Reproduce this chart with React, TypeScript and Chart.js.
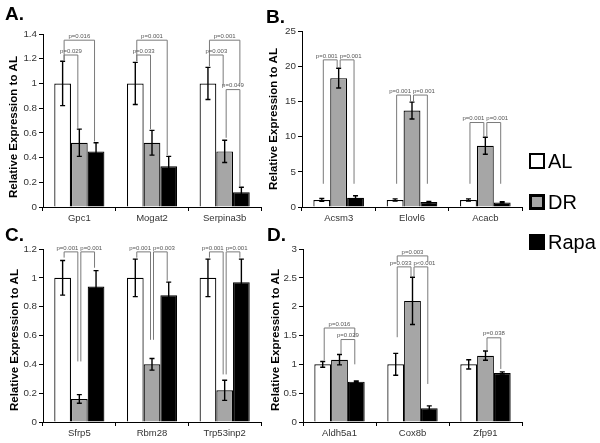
import React, { useEffect, useRef } from 'react';
import { Chart, registerables } from 'chart.js';
Chart.register(...registerables);

const FONT = "'Liberation Sans', Arial, Helvetica, sans-serif";
const seriesNames = ['AL', 'DR', 'Rapa'];
const seriesFill = ['#ffffff', '#a6a6a6', '#000000'];

// Panel A
const genesA = ['Gpc1', 'Mogat2', 'Serpina3b'];
const alA = [1.0, 1.0, 1.0];
const alErrA = [0.18, 0.17, 0.13];
const drA = [0.52, 0.52, 0.45];
const drErrA = [0.11, 0.1, 0.09];
const rapaA = [0.45, 0.33, 0.12];
const rapaErrA = [0.07, 0.08, 0.04];
// [category, fromSeries, toSeries, lineValue, fromLegEnd, toLegEnd, label]
const bracketsA: any[] = [
  [0, 0, 2, 1.35, 1.19, 0.53, 'p=0.016'],
  [0, 0, 1, 1.23, 1.19, 0.64, 'p=0.029'],
  [1, 0, 2, 1.35, 1.18, 0.42, 'p=0.001'],
  [1, 0, 1, 1.23, 1.18, 0.63, 'p=0.033'],
  [2, 0, 2, 1.35, 1.14, 1.0, 'p=0.001'],
  [2, 0, 1, 1.23, 1.14, 0.98, 'p=0.003'],
  [2, 1, 2, 0.95, 0.56, 0.17, 'p=0.049'],
];
const ticksA = { max: 1.4, step: 0.2 };

// Panel B
const genesB = ['Acsm3', 'Elovl6', 'Acacb'];
const alB = [1.0, 1.0, 1.0];
const alErrB = [0.2, 0.15, 0.15];
const drB = [18.3, 13.7, 8.7];
const drErrB = [1.4, 1.2, 1.2];
const rapaB = [1.3, 0.7, 0.65];
const rapaErrB = [0.3, 0.1, 0.1];
const bracketsB: any[] = [
  [0, 0, 1, 20.9, 3.3, 19.8, 'p=0.001'],
  [0, 1, 2, 20.9, 19.8, 3.3, 'p=0.001'],
  [1, 0, 1, 15.9, 3.3, 14.9, 'p=0.001'],
  [1, 1, 2, 15.9, 14.9, 3.3, 'p=0.001'],
  [2, 0, 1, 12.0, 3.3, 10.0, 'p=0.001'],
  [2, 1, 2, 12.0, 10.0, 3.3, 'p=0.001'],
];
const ticksB = { max: 25, step: 5 };

// Panel C
const genesC = ['Sfrp5', 'Rbm28', 'Trp53inp2'];
const alC = [1.0, 1.0, 1.0];
const alErrC = [0.12, 0.13, 0.13];
const drC = [0.16, 0.4, 0.22];
const drErrC = [0.03, 0.04, 0.07];
const rapaC = [0.94, 0.88, 0.97];
const rapaErrC = [0.11, 0.09, 0.16];
const bracketsC: any[] = [
  [0, 0, 1, 1.18, 1.14, 0.42, 'p=0.001'],
  [0, 1, 2, 1.18, 0.42, 1.07, 'p=0.001'],
  [1, 0, 1, 1.18, 1.14, 0.57, 'p=0.001'],
  [1, 1, 2, 1.18, 0.57, 0.98, 'p=0.003'],
  [2, 0, 1, 1.18, 1.14, 0.33, 'p=0.001'],
  [2, 1, 2, 1.18, 0.33, 1.14, 'p=0.001'],
];
const ticksC = { max: 1.2, step: 0.2 };

// Panel D
const genesD = ['Aldh5a1', 'Cox8b', 'Zfp91'];
const alD = [1.0, 1.0, 1.0];
const alErrD = [0.05, 0.19, 0.08];
const drD = [1.08, 2.1, 1.15];
const drErrD = [0.09, 0.41, 0.08];
const rapaD = [0.7, 0.24, 0.85];
const rapaErrD = [0.01, 0.04, 0.02];
const bracketsD: any[] = [
  [0, 0, 2, 1.63, 1.07, 1.47, 'p=0.016'],
  [0, 1, 2, 1.43, 1.18, 1.0, 'p=0.029'],
  [1, 0, 2, 2.88, 2.78, 2.78, 'p=0.003'],
  [1, 0, 1, 2.69, 1.47, 2.53, 'p=0.033'],
  [1, 1, 2, 2.69, 2.53, 0.66, 'p<0.001'],
  [2, 1, 2, 1.46, 1.24, 0.92, 'p=0.038'],
];
const ticksD = { max: 3, step: 0.5 };

const yTitle = 'Relative Expression to AL';

type PanelProps = {
  letter: string;
  genes: string[];
  values: number[][];
  errors: number[][];
  brackets: any[];
  ticks: { max: number; step: number };
  left: number; top: number; width: number; height: number;
  padTop: number; padRight: number; yWidth: number; xHeight: number;
  letterPos: [number, number];
  titlePos: [number, number];
};

function Panel(p: PanelProps) {
  const ref = useRef<HTMLCanvasElement>(null);
  useEffect(() => {
    if (!ref.current) return;
    const overlay = {
      id: 'overlay',
      afterDatasetsDraw(chart: any) {
        const ctx = chart.ctx;
        const ys = chart.scales.y;
        ctx.save();
        // error bars
        chart.data.datasets.forEach((ds: any, di: number) => {
          const meta = chart.getDatasetMeta(di);
          meta.data.forEach((bar: any, i: number) => {
            const v = ds.data[i];
            const e = p.errors[di][i];
            const x = bar.x;
            const yt = ys.getPixelForValue(v + e);
            const yb = ys.getPixelForValue(v - e);
            ctx.strokeStyle = '#000';
            ctx.lineWidth = 1.4;
            ctx.beginPath();
            ctx.moveTo(x, yt); ctx.lineTo(x, yb);
            ctx.moveTo(x - 2.5, yt); ctx.lineTo(x + 2.5, yt);
            ctx.moveTo(x - 2.5, yb); ctx.lineTo(x + 2.5, yb);
            ctx.stroke();
          });
        });
        // brackets
        ctx.font = `6px ${FONT}`;
        const items = p.brackets.map((b: any) => {
          const [c, a, z, lv, la, lz, label] = b;
          const xa = chart.getDatasetMeta(a).data[c].x + 1.5;
          const xz = chart.getDatasetMeta(z).data[c].x - 1.5;
          const yl = ys.getPixelForValue(lv);
          return { c, lv, xa, xz, yl, la, lz, label, tx: (xa + xz) / 2, w: ctx.measureText(label).width };
        });
        // push apart labels that sit on the same level in the same group
        for (let i = 0; i < items.length; i++) {
          for (let j = i + 1; j < items.length; j++) {
            const A = items[i], B = items[j];
            if (A.c !== B.c || A.lv !== B.lv) continue;
            const [L, R] = A.tx <= B.tx ? [A, B] : [B, A];
            const need = (L.w + R.w) / 2 + 2;
            const d = R.tx - L.tx;
            if (d < need) { L.tx -= (need - d) / 2; R.tx += (need - d) / 2; }
          }
        }
        items.forEach((it: any) => {
          ctx.strokeStyle = '#7a7a7a';
          ctx.lineWidth = 1;
          ctx.beginPath();
          ctx.moveTo(it.xa, ys.getPixelForValue(it.la));
          ctx.lineTo(it.xa, it.yl);
          ctx.lineTo(it.xz, it.yl);
          ctx.lineTo(it.xz, ys.getPixelForValue(it.lz));
          ctx.stroke();
          ctx.fillStyle = '#555';
          ctx.textAlign = 'center';
          ctx.textBaseline = 'bottom';
          ctx.fillText(it.label, it.tx, it.yl - 1);
        });
        // panel letter
        ctx.fillStyle = '#000';
        ctx.font = `bold 19px ${FONT}`;
        ctx.textAlign = 'left';
        ctx.textBaseline = 'alphabetic';
        ctx.fillText(p.letter, p.letterPos[0], p.letterPos[1]);
        // y title
        ctx.translate(p.titlePos[0], p.titlePos[1]);
        ctx.rotate(-Math.PI / 2);
        ctx.font = `bold 11.5px ${FONT}`;
        ctx.textAlign = 'center';
        ctx.textBaseline = 'middle';
        ctx.fillText(yTitle, 0, 0);
        ctx.restore();
      },
    };
    const chart = new Chart(ref.current, {
      type: 'bar',
      data: {
        labels: p.genes,
        datasets: seriesNames.map((n, i) => ({
          label: n,
          data: p.values[i],
          backgroundColor: seriesFill[i],
          borderColor: '#000',
          borderWidth: 1.2,
          barPercentage: 1,
          categoryPercentage: 0.69,
        })),
      },
      options: {
        animation: false,
        responsive: false,
        maintainAspectRatio: false,
        devicePixelRatio: 1,
        layout: { padding: { left: 0, right: p.padRight, top: p.padTop, bottom: 0 } },
        plugins: { legend: { display: false }, tooltip: { enabled: false }, title: { display: false } },
        scales: {
          x: {
            grid: { display: true, drawOnChartArea: false, tickLength: 4, color: '#000', offset: true },
            border: { color: '#000', width: 1 },
            ticks: { color: '#333', font: { family: FONT, size: 9.5 }, padding: 2, maxRotation: 0, autoSkip: false },
            afterFit: (s: any) => { s.height = p.xHeight; },
          },
          y: {
            min: 0,
            max: p.ticks.max,
            ticks: {
              stepSize: p.ticks.step, color: '#333', font: { family: FONT, size: 9.8 }, padding: 2,
              callback: (v: any) => String(Math.round(Number(v) * 100) / 100),
            },
            grid: { drawOnChartArea: false, tickLength: 4, color: '#000' },
            border: { color: '#000', width: 1 },
            afterFit: (s: any) => { s.width = p.yWidth; },
          },
        },
      } as any,
      plugins: [overlay],
    });
    return () => chart.destroy();
  }, []);
  return (
    <canvas
      ref={ref}
      width={p.width}
      height={p.height}
      style={{ position: 'absolute', left: p.left, top: p.top, width: p.width, height: p.height }}
    />
  );
}

function LegendItem({ top, fill, border, label }: { top: number; fill: string; border: number; label: string }) {
  return (
    <>
      <div style={{ position: 'absolute', left: 529, top: top - 8, width: 16, height: 16, boxSizing: 'border-box', border: `${border}px solid #000`, background: fill }} />
      <div style={{ position: 'absolute', left: 548, top: top - 11, height: 22, lineHeight: '22px', fontFamily: FONT, fontSize: 20, color: '#000' }}>{label}</div>
    </>
  );
}

export default function App() {
  return (
    <div style={{ position: 'fixed', left: 0, top: 0, width: 600, height: 443, background: '#fff', overflow: 'hidden' }}>
      <Panel letter="A." genes={genesA} values={[alA, drA, rapaA]} errors={[alErrA, drErrA, rapaErrA]} brackets={bracketsA} ticks={ticksA}
        left={0} top={0} width={265} height={225} padTop={34} padRight={4} yWidth={43} xHeight={18}
        letterPos={[5, 20]} titlePos={[14, 127]} />
      <Panel letter="B." genes={genesB} values={[alB, drB, rapaB]} errors={[alErrB, drErrB, rapaErrB]} brackets={bracketsB} ticks={ticksB}
        left={262} top={0} width={265} height={225} padTop={31} padRight={5} yWidth={40} xHeight={18}
        letterPos={[4, 23]} titlePos={[12, 119]} />
      <Panel letter="C." genes={genesC} values={[alC, drC, rapaC]} errors={[alErrC, drErrC, rapaErrC]} brackets={bracketsC} ticks={ticksC}
        left={0} top={222} width={265} height={221} padTop={27} padRight={4} yWidth={43} xHeight={21}
        letterPos={[5, 19]} titlePos={[15, 118]} />
      <Panel letter="D." genes={genesD} values={[alD, drD, rapaD]} errors={[alErrD, drErrD, rapaErrD]} brackets={bracketsD} ticks={ticksD}
        left={262} top={222} width={265} height={221} padTop={27} padRight={5} yWidth={41} xHeight={21}
        letterPos={[5, 19]} titlePos={[14, 118]} />
      <LegendItem top={161} fill="#ffffff" border={2.5} label="AL" />
      <LegendItem top={202} fill="#a6a6a6" border={3} label="DR" />
      <LegendItem top={242} fill="#000000" border={2} label="Rapa" />
    </div>
  );
}
